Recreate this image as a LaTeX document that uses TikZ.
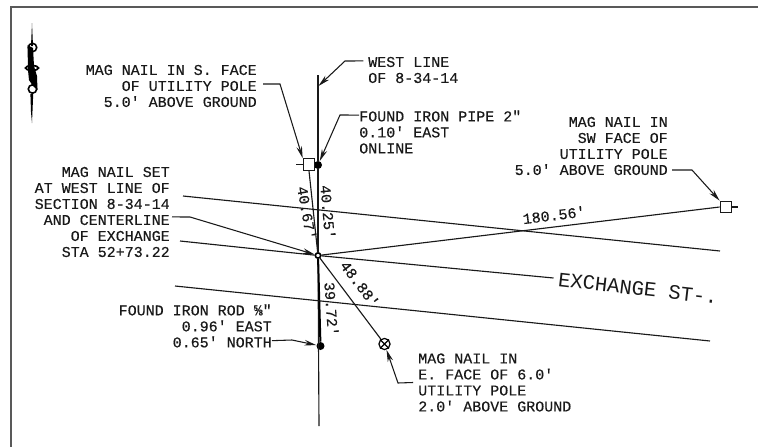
\documentclass[tikz,border=0pt]{standalone}
\usepackage{fontspec}
\setmainfont{Liberation Mono}
\newfontfamily\cadfont[FakeBold=0.25]{Liberation Mono}
\usetikzlibrary{arrows.meta}
\tikzset{
  ln/.style={draw=black!90,line width=0.85pt},
  leader/.style={draw=black!90,line width=0.8pt,-{Stealth[length=9pt,width=4.2pt]}},
  lbl/.style={inner sep=0pt,font=\cadfont\fontsize{11.25}{12}\selectfont,text=black!90},
  dim/.style={inner sep=0pt,font=\cadfont\fontsize{11.25}{12}\selectfont,text=black!90},
  pole/.style={draw=black!90,line width=0.9pt,fill=white,minimum size=8.6pt,inner sep=0pt},
  dotn/.style={circle,fill=black,inner sep=0pt,minimum size=6pt},
  ringn/.style={circle,draw=black,line width=1.2pt,inner sep=0pt,minimum size=4pt,fill=white},
  xnail/.style={circle,draw=black,line width=0.9pt,inner sep=0pt,minimum size=8.4pt,fill=white},
}
\begin{document}
\begin{tikzpicture}[x=0.75pt,y=-0.75pt]
\useasboundingbox (0,0) rectangle (758,447);
% frame
\draw[black!65,line width=1.2pt] (758,6.8) -- (11,6.8) -- (11,447);
% north arrow
\fill[black] (32,23) -- (33,46) -- (31,46) -- cycle;
\fill[black] (32,123) -- (33.2,94) -- (30.4,94) -- (31,112) -- cycle;
\draw[black,line width=1.2pt] (32.5,47.5) circle (4.2);
\draw[black,line width=1.2pt] (32.5,89) circle (4.2);
\fill[black] (27.5,45) -- (33,48) -- (34,66) -- (37,76) -- (37.5,90) -- (33,86) -- (29,80) -- (28,70) -- cycle;
\draw[black,line width=1.3pt] (32,68) ellipse (6.5 and 2.4);
% named points
\node[dotn] (pipe) at (318,165) {};
\node[ringn] (mag) at (318,255.5) {};
\node[dotn] (rod) at (320.5,346) {};
\node[xnail] (enail) at (384.5,344) {};
\draw[black,line width=0.9pt] (enail.45) -- (enail.225) (enail.135) -- (enail.315);
\coordinate (wtop) at (318,75);
\coordinate (wbot) at (319,426);
\coordinate (wmark) at (318.5,86);
\coordinate (r1a) at (183,196);
\coordinate (r1b) at (720,251);
\coordinate (c1a) at (180,241);
\coordinate (c1b) at (553.5,278);
\coordinate (r2a) at (175,286);
\coordinate (r2b) at (710,341);
% lines
\draw[ln] (wtop) -- (pipe);
\draw[ln] (pipe) -- (mag);
\draw[ln] (mag) -- (wbot);
\draw[draw=black,line width=1.5pt] (mag) -- (rod);
\draw[ln] (r1a) -- (r1b);
\draw[ln] (c1a) -- (mag);
\draw[ln] (mag) -- (c1b);
\draw[ln] (r2a) -- (r2b);
\draw[ln] (mag) -- (enail);
% poles
\node[pole] (sq1) at (309,164.5) {};
\node[pole] (sq2) at (726,207) {};
\coordinate (t1) at (296,164.5);
\coordinate (t2) at (738,207);
\draw[ln] (sq1.west) -- (t1);
\draw[ln] (sq2.east) -- (t2);
\draw[ln] (sq1.south) -- (mag);
\draw[ln] (mag) -- (sq2.west);
% labels
\node[lbl,anchor=east,align=right] (l1) at (257,86) {MAG NAIL IN S. FACE\\OF UTILITY POLE\\5.0′ ABOVE GROUND};
\node[lbl,anchor=west,align=left] (l2) at (368,70) {WEST LINE\\OF 8-34-14};
\node[lbl,anchor=west,align=left] (l3) at (359,132) {FOUND IRON PIPE 2″\\0.10′ EAST\\ONLINE};
\node[lbl,anchor=east,align=right] (l4) at (668,146) {MAG NAIL IN\\SW FACE OF\\UTILITY POLE\\5.0′ ABOVE GROUND};
\node[lbl,anchor=east,align=right] (l5) at (170,212) {MAG NAIL SET\\AT WEST LINE OF\\SECTION 8-34-14\\AND CENTERLINE\\OF EXCHANGE\\STA 52+73.22};
\node[lbl,anchor=east,align=right] (l6) at (272,326) {FOUND IRON ROD ⅝″\\0.96′ EAST\\0.65′ NORTH};
\node[lbl,anchor=west,align=left] (l7) at (418,382.5) {MAG NAIL IN\\E. FACE OF 6.0′\\UTILITY POLE\\2.0′ ABOVE GROUND};
% leaders
\coordinate (b1) at (280,84);
\coordinate (b2) at (345,61);
\coordinate (b3) at (340,115);
\coordinate (b4) at (692,170);
\coordinate (b5) at (190,217);
\coordinate (b6) at (292,340);
\coordinate (b7) at (398,383);
\draw[leader] ([xshift=4.5pt,yshift=1.5pt]l1.east) -- (b1) -- (sq1.north west);
\draw[leader] ([xshift=-3.5pt,yshift=6.8pt]l2.west) -- (b2) -- (wmark);
\draw[leader] ([yshift=12.7pt]l3.west) -- (b3) -- (pipe);
\draw[leader] ([xshift=3pt,yshift=-18pt]l4.east) -- (b4) -- (sq2.north west);
\draw[leader] ([xshift=1.5pt,yshift=-3.7pt]l5.east) -- (b5) -- (mag);
\draw[leader] ([yshift=-11pt]l6.east) -- (b6) -- (rod);
\draw[leader] ([xshift=-3.7pt]l7.west) -- (b7) -- (enail);
% dimensions
\node[dim,rotate=-85] (d1) at (328,212) {40.25′};
\node[dim,rotate=-80] (d2) at (307,213) {40.67′};
\node[dim,rotate=-53] (d3) at (360,284) {48.88′};
\node[dim,rotate=-86] (d4) at (331.5,309) {39.72′};
\node[dim,rotate=7] (d5) at (554,215) {180.56′};
\node[inner sep=0pt,rotate=-6.5,font=\fontsize{15.4}{16}\selectfont,text=black!90] (ex) at (638,288.5) {EXCHANGE ST-.};
\end{tikzpicture}
\end{document}
